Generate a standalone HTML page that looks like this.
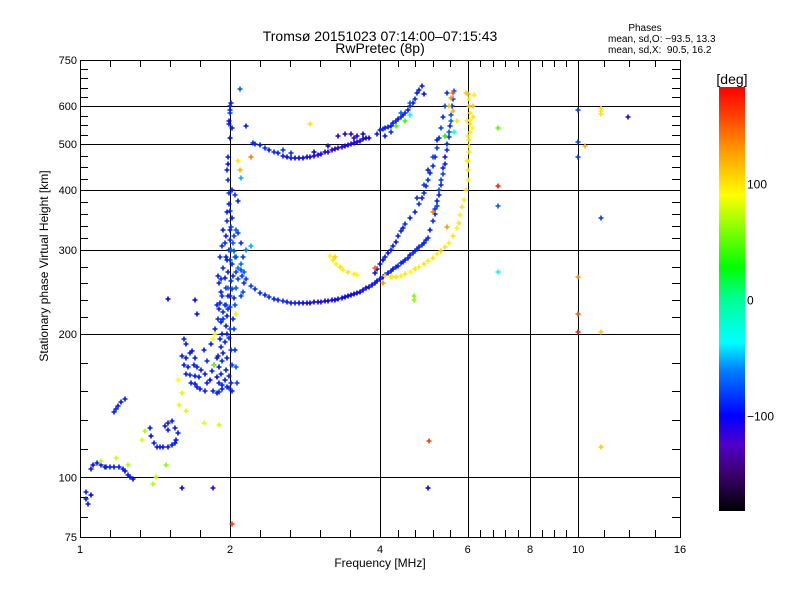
<!DOCTYPE html>
<html><head><meta charset="utf-8"><style>
body{margin:0;background:#fff;}
svg{display:block;font-family:"Liberation Sans",sans-serif;}
</style></head><body>
<svg id="chart" width="800" height="600" viewBox="0 0 800 600" xmlns="http://www.w3.org/2000/svg">
<defs><linearGradient id="cbar" x1="0" y1="1" x2="0" y2="0"></linearGradient></defs>
<rect width="800" height="600" fill="#fff"/>
<text x="380" y="41" font-size="14" text-anchor="middle">Tromsø 20151023 07:14:00–07:15:43</text>
<text x="380" y="53" font-size="14" text-anchor="middle">RwPretec (8p)</text>
<text x="645" y="31" font-size="10" text-anchor="middle">Phases</text>
<text x="608" y="42" font-size="10">mean, sd,O: −93.5, 13.3</text>
<text x="608" y="53" font-size="10">mean, sd,X:&#160;&#160;90.5, 16.2</text>
<text transform="translate(48,266) rotate(-90)" font-size="12" text-anchor="middle">Stationary phase Virtual Height [km]</text>
<text x="380" y="567" font-size="12" text-anchor="middle">Frequency [MHz]</text>
<g id="grid" shape-rendering="crispEdges"></g><g id="ticks" shape-rendering="crispEdges"></g><g id="marks"></g>
<rect x="80.5" y="60.5" width="600" height="477" fill="none" stroke="#000" shape-rendering="crispEdges"/>
<g id="cb"></g>
</svg>
<script>
const xMajor=[1,2,4,6,8,10,16];
const xMinorCount=[4,4,4,4,3,3];
const yMajor=[75,100,200,300,400,500,600,750];
const yMinorCount=[2,4,4,4,3,3,4];
const yGrid=[100,200,300,400,500,600];
const xGrid=[2,4,6,8,10];
const cbTicks=[100,0,-100];
const cbStops=[[-182,'#000000'],[-150,'#3c006e'],[-125,'#5000c8'],[-100,'#0000ff'],[-60,'#0082ff'],[-37,'#00ffff'],[0,'#00ff96'],[28,'#00ff00'],[90,'#ffff00'],[130,'#ff9600'],[160,'#ff3c00'],[183,'#ff0000']];

// traces: [freq MHz, virtual height km, phase deg]
const oTrace=[[2.05,290,-80],[2.1,272,-85],[2.15,260,-90],[2.2,252,-90],[2.25,248,-95],[2.3,244,-95],[2.35,241,-100],[2.4,239,-95],[2.45,237,-100],[2.5,235,-100],[2.55,234,-95],[2.6,233,-100],[2.65,232,-100],[2.7,232,-100],[2.75,232,-105],[2.8,232,-110],[2.85,232,-110],[2.9,232,-110],[2.95,233,-115],[3.0,233,-115],[3.05,233,-115],[3.1,234,-115],[3.15,234,-110],[3.2,235,-115],[3.25,236,-110],[3.3,237,-110],[3.35,238,-110],[3.4,239,-110],[3.45,240,-110],[3.5,241,-110],[3.55,242,-110],[3.6,244,-115],[3.65,245,-110],[3.7,247,-110],[3.75,249,-110],[3.8,251,-105],[3.85,253,-105],[3.9,255,-105],[3.95,258,-105],[4.0,261,-105],[4.05,263,-105],[4.1,266,-105],[4.15,268,-100],[4.2,271,-100],[4.25,273,-105],[4.3,276,-100],[4.35,278,-100],[4.4,281,-100],[4.45,283,-100],[4.5,286,-100],[4.55,289,-100],[4.6,292,-100],[4.65,295,-95],[4.7,298,-100],[4.75,301,-95],[4.8,304,-100],[4.85,307,-95],[4.9,310,-100],[4.95,314,-95],[5.0,318,-95],[5.05,330,-100],[5.1,345,-95],[5.15,357,-100],[5.2,370,-90],[5.25,390,-100],[5.3,410,-95],[5.35,432,-90],[5.4,455,-100],[5.45,485,-95],[5.5,517,-90],[5.53,545,-95],[5.56,575,-85],[5.6,620,-90],[5.63,645,-85],[5.2,380,-100],[5.3,420,-90],[5.4,470,-100],[5.5,530,-85],[5.45,500,-95],[5.35,445,-100],[5.25,400,-85],[5.15,365,-90],[5.55,560,-80],[5.58,600,-95]];
const o2Trace=[[3.9,268,-105],[3.95,274,-105],[4.0,280,-105],[4.05,285,-105],[4.1,290,-100],[4.15,295,-105],[4.2,300,-100],[4.25,306,-100],[4.3,312,-105],[4.35,320,-100],[4.4,328,-100],[4.45,334,-100],[4.5,340,-95],[4.6,350,-100],[4.7,360,-100],[4.8,375,-95],[4.85,385,-100],[4.9,395,-95],[4.95,408,-100],[5.0,420,-95],[5.05,435,-100],[5.1,450,-95],[5.15,470,-100],[5.2,490,-90],[5.25,515,-95],[5.3,540,-90],[5.35,570,-95],[5.4,600,-85],[5.45,640,-95],[5.0,440,-100],[5.1,470,-90],[5.2,510,-100],[4.9,410,-90],[4.75,385,-95]];
const xTrace=[[3.17,291,95],[3.22,285,100],[3.27,280,95],[3.32,276,100],[3.37,272,95],[3.45,270,100],[3.55,267,95],[3.6,266,90],[4.1,265,95],[4.2,263,100],[4.25,263,95],[4.3,263,100],[4.4,265,95],[4.5,267,100],[4.6,270,90],[4.7,273,100],[4.8,276,95],[4.9,280,100],[5.0,284,95],[5.1,289,100],[5.2,294,95],[5.3,298,110],[5.4,304,100],[5.5,310,95],[5.6,320,100],[5.7,333,95],[5.75,341,100],[5.8,355,95],[5.85,368,100],[5.9,382,95],[5.95,400,100],[6.0,420,90],[6.0,440,100],[6.02,460,95],[6.03,480,100],[6.03,494,90],[6.04,510,100],[6.05,530,95],[6.06,550,100],[6.06,562,95],[6.05,580,100],[6.04,600,110],[6.03,620,95],[6.0,638,120],[5.95,640,110],[6.15,600,110],[6.15,570,100],[6.17,634,95],[6.12,540,90],[5.98,460,95],[6.0,520,100],[5.97,560,95]];
const upperTrace=[[2.22,502,-100],[2.25,500,-95],[2.3,498,-100],[2.35,490,-95],[2.4,485,-100],[2.45,480,-95],[2.5,478,-100],[2.55,472,-100],[2.6,470,-105],[2.65,468,-100],[2.7,468,-105],[2.75,467,-110],[2.8,468,-110],[2.85,469,-110],[2.9,470,-115],[2.95,472,-115],[3.0,475,-115],[3.05,477,-115],[3.1,480,-115],[3.15,482,-120],[3.2,485,-120],[3.25,487,-120],[3.3,490,-120],[3.35,492,-120],[3.4,495,-120],[3.45,497,-115],[3.5,500,-120],[3.55,502,-115],[3.6,505,-115],[3.65,508,-120],[3.7,512,-115],[3.75,514,-110],[3.8,515,-115],[3.3,520,-120],[3.4,525,-115],[3.5,525,-120],[3.6,520,-115],[3.7,525,-110],[3.55,515,-125],[3.95,525,-100],[4.0,535,-100],[4.05,538,-95],[4.1,540,-100],[4.15,542,-95],[4.2,545,-100],[4.25,552,-100],[4.3,560,-95],[4.35,565,-100],[4.4,570,-95],[4.45,575,-100],[4.5,580,-95],[4.55,590,-100],[4.6,600,-95],[4.65,610,-100],[4.7,620,-95],[4.75,640,-100],[4.8,650,-100],[4.85,660,-100],[4.9,635,-105],[4.4,580,-80],[4.6,610,-80],[4.2,530,-95],[4.1,520,-100],[2.55,485,-90],[2.65,478,-95],[2.95,480,-110],[3.15,495,-115]];
const spread2=[[2.0,600,-95],[2.0,590,-100],[2.0,580,-90],[2.01,610,-100],[1.99,560,-105],[1.99,550,-100],[2.02,540,-100],[2.0,515,-110],[1.98,470,-100],[1.98,455,-105],[1.97,440,-100],[1.98,420,-95],[2.02,400,-100],[2.05,390,-90],[1.99,375,-100],[2.0,362,-95],[2.02,350,-100],[1.97,345,-95],[2.01,335,-90],[1.94,330,-100],[2.06,330,-80],[2.08,325,-90],[1.96,320,-100],[2.0,315,-95],[2.03,310,-80],[1.93,305,-95],[1.99,300,-100],[2.04,298,-85],[1.96,290,-100],[2.0,285,-90],[2.02,280,-95],[1.94,275,-95],[1.98,270,-100],[2.06,270,-90],[1.95,262,-100],[2.01,258,-95],[1.9,255,-100],[1.96,250,-95],[2.02,248,-90],[1.92,245,-100],[1.98,240,-95],[2.04,238,-95],[1.91,232,-100],[1.95,230,-100],[2.0,228,-90],[1.9,225,-100],[1.94,222,-95],[1.97,218,-100],[2.03,215,-95],[1.92,212,-100],[1.96,208,-100],[2.0,205,-85],[1.93,200,-100],[1.99,196,-95],[1.95,192,-100],[1.92,188,-100],[2.01,185,-95],[1.94,182,-100],[1.89,180,-100],[1.97,178,-100],[1.93,175,-95],[2.02,172,-90],[1.9,170,-100],[1.96,168,-100],[1.92,165,-100],[1.99,163,-95],[1.88,162,-105],[1.95,160,-100],[1.9,158,-100],[2.01,158,-95],[1.93,156,-100],[1.97,155,-100],[1.99,154,-95],[2.02,152,-100],[2.06,170,-80],[2.07,158,-90],[2.05,185,-95],[2.1,240,-90],[2.12,245,-85],[2.08,260,-90],[2.1,280,-75],[2.13,270,-80],[2.15,300,-70],[2.2,305,-60],[2.1,310,-95],[2.08,380,-100],[2.09,652,-80],[2.15,545,-100],[1.96,230,-90],[1.98,250,-80],[1.92,260,-95],[1.97,285,-100],[1.95,310,-95],[1.97,200,-100],[1.94,215,-95],[1.91,195,-100],[2.03,265,-95],[2.0,240,-100],[1.98,225,-95],[1.93,240,-95],[2.04,320,-90],[2.06,290,-85],[2.0,330,-100],[2.01,300,-80],[1.88,230,-100],[1.89,215,-95],[1.87,205,-100],[2.06,250,-80],[2.08,275,-70],[2.11,265,-90],[2.13,255,-95],[2.04,205,-90],[2.05,230,-85],[1.91,290,-95],[1.89,265,-100],[2.12,290,-90],[1.97,360,-100],[1.99,395,-95]];
const lowTraces=[[1.03,90,-100],[1.04,88,-100],[1.05,92,-110],[1.03,93,-100],[1.05,104,-100],[1.06,106,-105],[1.08,107,-100],[1.1,106,-100],[1.12,105,-105],[1.13,105,-100],[1.15,105,-100],[1.17,105,-100],[1.2,105,-100],[1.22,104,-100],[1.23,103,-105],[1.25,101,-100],[1.26,100,-100],[1.28,99,-110],[1.17,137,-100],[1.18,139,-95],[1.19,141,-100],[1.21,144,-100],[1.23,146,-100],[1.38,127,-100],[1.39,122,-105],[1.41,118,-100],[1.43,116,-100],[1.45,116,-100],[1.47,116,-100],[1.5,116,-100],[1.53,117,-100],[1.55,118,-100],[1.56,120,-100],[1.57,124,-100],[1.55,127,-100],[1.5,126,-100],[1.48,128,-100],[1.5,130,-100],[1.53,131,-100],[1.6,95,-110],[1.85,95,-120],[1.62,195,-100],[1.63,190,-100],[1.6,180,-100],[1.63,178,-100],[1.66,182,-100],[1.68,184,-105],[1.7,178,-100],[1.62,172,-100],[1.65,170,-100],[1.69,172,-100],[1.72,170,-100],[1.75,168,-100],[1.63,165,-100],[1.66,164,-95],[1.7,163,-100],[1.73,162,-100],[1.67,158,-100],[1.7,157,-100],[1.72,155,-100],[1.74,153,-100],[1.78,152,-100],[1.8,158,-100],[1.82,160,-105],[1.78,165,-100],[1.84,167,-100],[1.86,172,-100],[1.85,152,-100],[1.88,150,-100],[1.9,151,-95],[1.93,153,-100],[1.8,175,-95],[1.77,185,-100],[1.88,178,-100],[1.83,190,-100],[1.7,235,-110],[1.5,237,-110],[1.72,220,-105]];
const scatterPts=[[1.57,160,90],[1.6,150,80],[1.58,142,85],[1.63,138,80],[1.85,195,90],[1.87,200,90],[1.77,130,85],[1.9,129,80],[1.35,125,70],[1.33,120,80],[1.18,110,80],[1.25,106,70],[1.42,100,75],[1.49,106,60],[1.1,108,75],[1.4,97,70],[1.86,172,60],[2.06,220,80],[2.02,80,160],[2.2,470,140],[2.9,550,100],[2.08,460,100],[2.09,440,120],[2.1,425,-60],[4.68,240,60],[4.68,236,60],[5.02,119,160],[5.0,95,-110],[6.9,540,50],[6.9,408,170],[6.9,371,-80],[6.9,269,-40],[10.0,590,-90],[10.0,505,-90],[10.0,470,-90],[10.0,263,130],[10.0,220,150],[10.0,202,170],[11.1,595,100],[11.1,585,100],[11.1,578,100],[11.1,350,-90],[11.1,202,110],[11.1,116,110],[10.3,495,120],[12.6,570,-120],[4.5,560,40],[4.3,545,40],[4.6,575,-40],[5.6,640,150],[5.55,625,130],[5.5,600,110],[5.6,585,120],[5.7,560,100],[5.62,530,-40],[5.4,520,30],[5.45,335,130],[5.1,360,140],[3.25,290,110],[3.9,275,150],[4.05,255,130]];
const allTraces=[oTrace,o2Trace,xTrace,upperTrace,spread2,lowTraces,scatterPts];

const X0=80,X1=680,Y0=537,Y1=60;
function xScale(f){return X0+(X1-X0)*Math.log2(f)/Math.log2(16);}
function yScale(h){return Y0-(Y0-Y1)*Math.log10(h/75);}
function hex(c){return [1,3,5].map(i=>parseInt(c.substr(i,2),16));}
function colorOf(p){
  if(p<=cbStops[0][0])return cbStops[0][1];
  for(let i=1;i<cbStops.length;i++){
    if(p<=cbStops[i][0]){
      const a=hex(cbStops[i-1][1]),b=hex(cbStops[i][1]);
      const t=(p-cbStops[i-1][0])/(cbStops[i][0]-cbStops[i-1][0]);
      return 'rgb('+a.map((v,k)=>Math.round(v+(b[k]-v)*t)).join(',')+')';
    }
  }
  return cbStops[cbStops.length-1][1];
}
const NS='http://www.w3.org/2000/svg';
function mk(tag,attrs,parent){const e=document.createElementNS(NS,tag);for(const k in attrs)e.setAttribute(k,attrs[k]);parent.appendChild(e);return e;}
const grid=document.getElementById('grid'),ticks=document.getElementById('ticks'),marks=document.getElementById('marks'),cb=document.getElementById('cb');

xGrid.forEach(f=>{const x=Math.round(xScale(f))+0.5;
  const l=mk('line',{x1:x,x2:x,y1:Y1,y2:Y0,stroke:'#000'},grid);
  
  });
yGrid.forEach(h=>{const y=Math.round(yScale(h))+0.5;
  const l=mk('line',{x1:X0,x2:X1,y1:y,y2:y,stroke:'#000'},grid);
  
  });

for(let i=0;i<xMajor.length;i++){
  const xa=xScale(xMajor[i]);
  const t=mk('text',{x:xa,y:553,'font-size':11,'text-anchor':'middle'},ticks);t.textContent=xMajor[i];
  
  
  if(i<xMajor.length-1){const xb=xScale(xMajor[i+1]),n=xMinorCount[i];
    for(let k=0;k<=n;k++){const x=Math.round(xa+(xb-xa)*k/(n+1))+0.5;
      mk('line',{x1:x,x2:x,y1:Y0,y2:Y0-7,stroke:'#000'},ticks);
      mk('line',{x1:x,x2:x,y1:Y1,y2:Y1+7,stroke:'#000'},ticks);}}
}
for(let i=0;i<yMajor.length;i++){
  const ya=yScale(yMajor[i]);
  const t=mk('text',{x:77,y:ya+4,'font-size':11,'text-anchor':'end'},ticks);t.textContent=yMajor[i];
  
  
  if(i<yMajor.length-1){const yb=yScale(yMajor[i+1]),n=yMinorCount[i];
    for(let k=0;k<=n;k++){const y=Math.round(ya+(yb-ya)*k/(n+1))+0.5;
      mk('line',{x1:X0,x2:X0+8,y1:y,y2:y,stroke:'#000'},ticks);
      mk('line',{x1:X1,x2:X1-8,y1:y,y2:y,stroke:'#000'},ticks);}}
}
allTraces.forEach(tr=>tr.forEach(p=>{
  const x=Math.round(xScale(p[0])),y=Math.round(yScale(p[1]));
  const ph=p[2]<0?p[2]+8:p[2];
  const m=mk('path',{d:'M'+(x-2.5)+' '+y+'h5M'+x+' '+(y-2.5)+'v5',stroke:colorOf(ph),'stroke-width':1.6,fill:'none'},marks);
  
  
}));
const grad=document.getElementById('cbar');
const cbTop=87,cbBot=511,pTop=183,pBot=-182;
cbStops.forEach(s=>{mk('stop',{offset:((s[0]-pBot)/(pTop-pBot)),'stop-color':s[1]},grad);});
const bar=mk('rect',{x:719,y:cbTop,width:26,height:cbBot-cbTop,fill:'url(#cbar)'},cb);


const unit=mk('text',{x:732,y:84,'font-size':14,'text-anchor':'middle'},cb);unit.textContent='[deg]';


cbTicks.forEach(v=>{const y=cbBot-(v-pBot)/(pTop-pBot)*(cbBot-cbTop);
  const t=mk('text',{x:747,y:y+5,'font-size':12},cb);t.textContent=v<0?'−'+(-v):v;
  
  });
</script>
</body></html>
